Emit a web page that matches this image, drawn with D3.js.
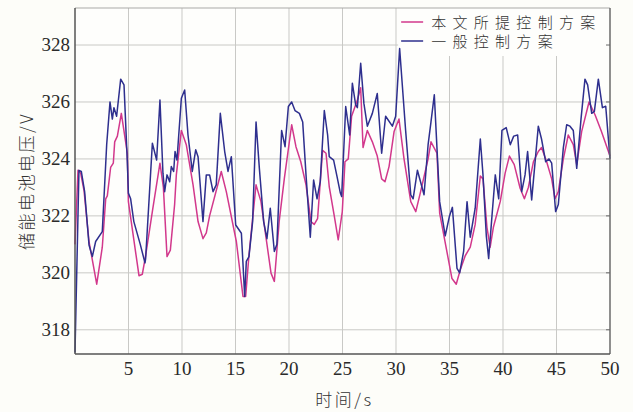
<!DOCTYPE html>
<html>
<head>
<meta charset="utf-8">
<script src="https://cdn.jsdelivr.net/npm/d3@7"></script>
<style>
  body { margin:0; background:#fdfdf9; }
  svg { display:block; }
</style>
</head>
<body>
<svg id="chart"></svg>
<script>
// series (time in s, voltage in V)
var tProposed = [0,0.28,0.53,0.84,1.31,2.03,2.55,2.87,3.02,3.33,3.58,3.71,3.96,4.33,4.89,4.99,5.98,6.29,6.6,7.25,7.94,8.26,8.6,8.91,9.31,9.47,9.94,10.4,11.03,11.5,11.96,12.27,12.58,13.67,14.14,15.08,15.7,15.95,16.26,16.92,17.38,18.32,18.63,19.08,19.56,20.25,20.65,21.1,21.59,22.05,22.36,22.67,23.14,23.46,23.76,24.23,24.6,24.98,25.23,25.54,25.85,26.39,26.7,26.92,27.32,27.79,28.25,28.66,28.97,29.35,29.82,30.28,30.75,31.38,31.85,32.3,33.0,33.27,33.83,34.08,35.23,35.63,36.0,36.47,36.94,37.4,37.88,38.13,38.5,38.8,39.1,39.74,40.2,40.6,41.05,41.6,42.0,42.37,42.84,43.3,43.6,44.08,44.55,44.86,45.17,45.64,46.1,46.57,46.89,47.35,48.04,48.6,49.2,50.0];
var vProposed = [321.0,323.6,323.5,322.9,321.1,319.6,320.9,322.6,322.7,323.7,323.85,324.6,324.8,325.6,324.2,322.5,319.9,319.95,320.6,322.2,323.85,323.0,320.57,320.8,322.4,323.44,325.0,324.5,323.1,321.8,321.2,321.4,322.0,323.56,322.85,321.1,319.17,319.17,320.63,323.09,322.5,319.99,319.7,321.8,323.3,325.2,324.43,323.9,323.09,321.8,321.7,321.9,324.3,324.2,323.03,322.0,321.16,322.15,323.9,324.0,325.5,326.07,326.5,324.4,325.0,324.6,324.1,323.3,323.2,323.73,324.96,325.4,324.0,322.5,322.15,322.85,324.0,324.6,324.2,322.1,319.8,319.6,320.1,320.6,320.9,321.7,323.4,323.3,321.6,320.9,321.6,322.5,323.5,324.1,323.8,322.97,322.6,323.0,323.9,324.26,324.4,323.9,323.3,322.6,322.85,324.0,324.84,324.5,323.8,324.96,326.0,325.55,324.96,324.1];

var tGeneral = [0,0.37,0.59,0.9,1.31,1.62,1.93,2.55,2.96,3.27,3.49,3.64,3.89,4.27,4.58,4.89,4.99,5.2,5.5,6.1,6.54,6.6,7.23,7.63,7.94,8.22,8.38,8.6,8.85,9.0,9.22,9.35,9.53,9.94,10.25,10.56,10.96,11.28,11.5,11.96,12.27,12.58,12.9,13.2,13.58,13.99,14.3,14.61,15.02,15.55,15.86,16.01,16.26,16.6,16.92,17.23,17.63,17.94,18.25,18.63,18.87,19.31,19.63,19.94,20.25,20.56,20.97,21.28,21.59,21.99,22.3,22.62,22.92,23.3,23.61,23.76,24.17,24.49,24.8,24.92,25.3,25.67,25.92,26.23,26.39,26.7,27.0,27.32,27.79,28.25,28.66,29.03,29.66,29.97,30.34,30.9,31.38,31.6,32.0,32.62,33.0,33.27,33.58,34.08,34.6,35.0,35.27,35.7,35.95,36.32,36.64,36.94,37.4,37.88,38.13,38.44,38.66,38.97,39.28,39.6,39.9,40.3,40.68,41.0,41.37,41.75,42.06,42.3,42.68,43.3,43.6,43.99,44.3,44.55,44.92,45.17,45.64,45.95,46.26,46.57,46.89,47.29,47.66,47.91,48.29,48.54,48.91,49.29,49.6,50.0];
var vGeneral = [317.2,323.6,323.56,322.85,320.98,320.57,321.1,321.45,324.5,326.0,325.4,325.8,325.5,326.8,326.6,323.9,322.8,322.6,321.8,321.0,320.35,320.5,324.55,323.96,326.07,323.5,322.85,323.44,323.2,323.73,323.56,324.26,323.96,326.13,326.42,324.84,323.56,324.32,324.08,321.8,323.44,323.44,322.85,323.09,325.6,324.26,323.56,324.08,321.68,321.39,319.17,320.4,320.57,321.8,325.3,323.67,321.8,321.2,322.27,320.75,321.0,325.0,324.43,325.84,326.0,325.7,325.6,325.3,323.44,321.25,323.26,322.6,323.2,325.7,324.84,324.08,323.96,323.38,322.8,322.68,325.84,324.84,326.66,325.9,325.8,327.36,325.95,325.15,325.6,326.3,324.2,325.5,325.15,325.5,327.88,325.0,322.74,322.6,323.6,322.74,324.5,325.3,326.25,322.5,321.3,322.0,322.3,320.16,320.0,320.75,322.5,321.25,322.27,324.7,323.44,321.3,320.5,322.0,323.44,322.6,325.0,325.1,324.5,324.8,324.84,322.85,323.44,324.26,322.56,325.15,324.7,323.9,324.0,323.85,322.15,322.4,324.4,325.2,325.15,325.0,323.67,325.4,326.8,326.6,325.6,325.67,326.8,325.8,325.85,324.0];

var xTicks = [5,10,15,20,25,30,35,40,45,50];
var yTicks = [318,320,322,324,326,328];
var seriesNames = ["本文所提控制方案","一般控制方案"];
var seriesColors = ["#d2388c","#2e2f8e"];

var W=633, H=412;
var margin = {left:75, right:23, top:8, bottom:58};
var pw = W-margin.left-margin.right, ph = H-margin.top-margin.bottom;

var svg = d3.select("#chart").attr("width",W).attr("height",H);

var x = d3.scaleLinear().domain([0,50]).range([0,pw]);
var y = d3.scaleLinear().domain([317.15,329.3]).range([ph,0]);

var g = svg.append("g").attr("transform","translate("+margin.left+","+margin.top+")");

g.append("rect").attr("width",pw).attr("height",ph).style("fill","#fefefc");

// grid
g.selectAll("line.gx").data(xTicks.slice(0,-1)).enter().append("line")
    .attr("class","gx").attr("x1",x).attr("x2",x).attr("y1",0).attr("y2",ph)
    .style("stroke","#c9c9c6").style("stroke-width",1);
g.selectAll("line.gy").data(yTicks).enter().append("line")
    .attr("class","gy").attr("y1",y).attr("y2",y).attr("x1",0).attr("x2",pw)
    .style("stroke","#c9c9c6").style("stroke-width",1);

// legend background
var lg = g.append("g").attr("transform","translate("+(x(30.2))+",0)");
lg.append("rect").attr("width",pw-x(30.2)-1).attr("height",48).style("fill","#fefefc");

// lines
var line = d3.line().x(function(d){return x(d[0]);}).y(function(d){return y(d[1]);});
var propData = d3.zip(tProposed,vProposed), genData = d3.zip(tGeneral,vGeneral);
g.append("path").datum(propData).attr("d",line)
    .style("fill","none").style("stroke",seriesColors[0]).style("stroke-width",1.5)
    .style("stroke-linejoin","round");
g.append("path").datum(genData).attr("d",line)
    .style("fill","none").style("stroke",seriesColors[1]).style("stroke-width",1.5)
    .style("stroke-linejoin","round");

// frame
g.append("line").attr("x1",0).attr("x2",pw).attr("y1",0).attr("y2",0).style("stroke","#a9a9a6");
g.append("line").attr("x1",pw).attr("x2",pw).attr("y1",0).attr("y2",ph).style("stroke","#6a6a6a").style("stroke-width",1.5);
g.append("line").attr("x1",0).attr("x2",0).attr("y1",0).attr("y2",ph).style("stroke","#555").style("stroke-width",1.5);
g.append("line").attr("x1",0).attr("x2",pw).attr("y1",ph).attr("y2",ph).style("stroke","#555").style("stroke-width",1.5);

// right-side ticks
g.selectAll("line.rt").data(yTicks).enter().append("line")
    .attr("class","rt").attr("x1",pw-4).attr("x2",pw).attr("y1",y).attr("y2",y)
    .style("stroke","#6a6a6a");

// tick labels
g.selectAll("text.xt").data(xTicks).enter().append("text")
    .attr("class","xt").attr("x",x).attr("y",ph+21).attr("text-anchor","middle")
    .style("font-family","'Liberation Serif','DejaVu Serif',serif").style("font-size","19px").style("fill","#2a2a2a")
    .text(function(d){return d;});
g.selectAll("text.yt").data(yTicks).enter().append("text")
    .attr("class","yt").attr("x",-5).attr("y",function(d){return y(d)+6;}).attr("text-anchor","end")
    .style("font-family","'Liberation Serif','DejaVu Serif',serif").style("font-size","19px").style("fill","#2a2a2a")
    .text(function(d){return d;});

// axis titles
svg.append("text").attr("x",margin.left+pw/2+2).attr("y",406).attr("text-anchor","middle")
    .style("font-family","'Noto Sans CJK SC',sans-serif").style("font-size","17px").style("font-weight",300)
    .style("letter-spacing","2.5px").style("fill","#333").text("时间/s");
svg.append("text").attr("transform","translate(33,"+(margin.top+ph/2)+") rotate(-90)")
    .attr("text-anchor","middle")
    .style("font-family","'Noto Sans CJK SC',sans-serif").style("font-size","17px").style("font-weight",300)
    .style("letter-spacing","2.5px").style("fill","#333").text("储能电池电压/V");

// legend entries
seriesNames.forEach(function(name,i){
    var yy = 14 + i*19;
    lg.append("line").attr("x1",3).attr("x2",25).attr("y1",yy).attr("y2",yy)
        .style("stroke",seriesColors[i]).style("stroke-width",1.5);
    lg.append("text").attr("x",33).attr("y",yy+6)
        .style("font-family","'Noto Sans CJK SC',sans-serif").style("font-size","15px").style("font-weight",300)
        .style("letter-spacing","6.3px").style("fill","#333").text(name);
});
</script>
</body>
</html>
